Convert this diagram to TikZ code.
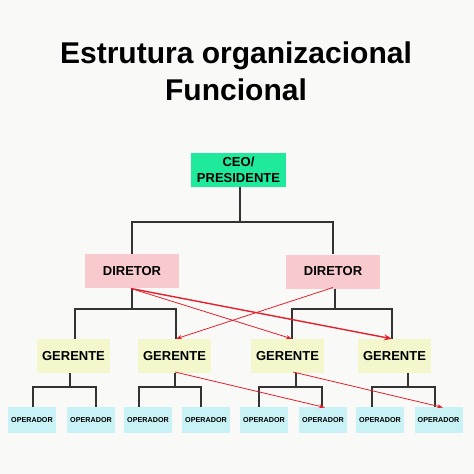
\documentclass[tikz,border=0pt]{standalone}
\usepackage{fontspec}
\setmainfont{Liberation Sans}
\usetikzlibrary{arrows.meta,calc}
\definecolor{bg}{HTML}{F9F9F8}
\definecolor{ceoc}{HTML}{1FEA9C}
\definecolor{dirc}{HTML}{F8C9CD}
\definecolor{gerc}{HTML}{F4F6CB}
\definecolor{opc}{HTML}{C8F2F5}
\definecolor{redl}{HTML}{E5202C}
\definecolor{linec}{HTML}{333333}
\tikzset{
  box/.style={inner sep=0pt, align=center, font=\bfseries},
  ceobox/.style={box, fill=ceoc, minimum width=95pt, minimum height=34pt, font=\bfseries\fontsize{13}{16}\selectfont},
  dirbox/.style={box, fill=dirc, minimum width=94pt, minimum height=34pt, font=\bfseries\fontsize{13}{15}\selectfont},
  gerbox/.style={box, fill=gerc, minimum width=73pt, minimum height=34pt, font=\bfseries\fontsize{13}{15}\selectfont},
  opbox/.style={box, fill=opc, minimum width=48pt, minimum height=26pt, font=\bfseries\fontsize{7.2}{9}\selectfont},
  tree/.style={draw=linec, line width=1.1pt},
  redarrow/.style={draw=redl, line width=0.8pt, -{Stealth[length=6pt,width=4pt]}},
}
\begin{document}
\begin{tikzpicture}[x=1pt,y=-1pt]
\fill[bg] (0,0) rectangle (474,474);
\useasboundingbox (0,0) rectangle (474,474);

\node[font=\bfseries\fontsize{30}{37}\selectfont, align=center] (title) at (236,71) {Estrutura organizacional\\Funcional};

\node[ceobox] (ceo) at (238.5,170) {CEO/\\PRESIDENTE};
\node[dirbox] (d1) at (132,271) {DIRETOR};
\node[dirbox] (d2) at (333,271.5) {DIRETOR};

\node[gerbox] (g1) at (73.5,356) {GERENTE};
\node[gerbox] (g2) at (174.5,356) {GERENTE};
\node[gerbox] (g3) at (287.5,356) {GERENTE};
\node[gerbox] (g4) at (394.5,356) {GERENTE};

\foreach \i/\x in {1/32,2/91,3/148,4/206,5/264,6/323,7/380,8/438.5}
  \node[opbox] (o\i) at (\x,420) {OPERADOR};

% CEO to directors
\coordinate (b0) at (240,222);
\draw[tree] (ceo.south -| b0) -- (b0);
\draw[tree] (d1.north) |- (b0) -| (d2.north);

% directors to managers
\coordinate (b1) at (132,309);
\coordinate (b2) at (335,309);
\coordinate (j1) at (75,309);
\coordinate (j2) at (176,309);
\coordinate (j3) at (292,309);
\coordinate (j4) at (392,309);
\draw[tree] (d1.south) -- (b1);
\draw[tree] (d2.south -| b2) -- (b2);
\draw[tree] (j1 |- g1.north) -- (j1) -- (j2) -- (j2 |- g2.north);
\draw[tree] (j3 |- g3.north) -- (j3) -- (j4) -- (j4 |- g4.north);

% managers to operators
\foreach \g/\gx/\la/\lb/\oa/\ob in {g1/70/33/96/o1/o2, g2/175/139/201/o3/o4, g3/296/259/322/o5/o6, g4/408/372/435/o7/o8}{
  \coordinate (k\g) at (\gx,387);
  \coordinate (ka\g) at (\la,387);
  \coordinate (kb\g) at (\lb,387);
  \draw[tree] (\g.south -| k\g) -- (k\g);
  \draw[tree] (\oa.north -| ka\g) -- (ka\g) -- (kb\g) -- (\ob.north -| kb\g);
}

% red arrows
\coordinate (s1) at (131,288.5);
\coordinate (s2) at (333,287.5);
\draw[redarrow] (s2) -- (j2 |- g2.north);
\draw[redarrow] (s1) -- (j3 |- g3.north);
\draw[redarrow, line width=1.4pt, -{Stealth[length=8pt,width=6pt]}] (s1) -- (j4 |- g4.north);
\coordinate (s3) at (175,372);
\coordinate (s4) at (293,372);
\coordinate (t6) at (325,407.5);
\coordinate (t8) at (443,407.5);
\draw[redarrow] (s3) -- (t6);
\draw[redarrow] (s4) -- (t8);
\end{tikzpicture}
\end{document}
